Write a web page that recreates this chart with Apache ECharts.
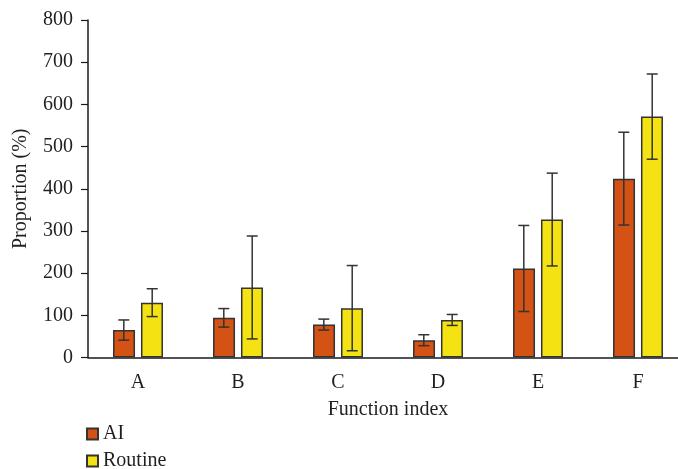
<!DOCTYPE html>
<html>
<head>
<meta charset="utf-8">
<script src="https://cdn.jsdelivr.net/npm/echarts@6/dist/echarts.min.js"></script>
<style>
  html, body { margin: 0; padding: 0; background: #fff; }
  #main { width: 678px; height: 469px; }
</style>
</head>
<body>
<div id="main"></div>
<script>
// data
const categories = ['A', 'B', 'C', 'D', 'E', 'F'];
const aiValues = [65, 94, 78, 41, 211, 424];
const aiErr = [24, 22, 13, 13, 102, 110];
const routineValues = [130, 166, 117, 89, 327, 571];
const routineErr = [33, 122, 101, 13, 110, 101];
const yTicks = [0, 100, 200, 300, 400, 500, 600, 700, 800];

const font = 'Liberation Serif';
const ink = '#231f20';

var chart = echarts.init(document.getElementById('main'), null, { renderer: 'canvas' });

// error bars: offset = share of the band width, side = -1 for AI, +1 for Routine
function errorBars(values, errs, side) {
  return {
    type: 'custom',
    z: 5,
    silent: true,
    data: values.map((v, i) => [i, v, errs[i]]),
    renderItem: function (params, api) {
      var i = api.value(0);
      var band = api.size([1, 0])[0];
      var hi = api.coord([i, api.value(1) + api.value(2)]);
      var lo = api.coord([i, api.value(1) - api.value(2)]);
      var x = hi[0] + side * band * 0.142;
      var cap = 5.5;
      var style = { stroke: '#333', lineWidth: 1.5 };
      return {
        type: 'group',
        children: [
          { type: 'line', shape: { x1: x, y1: hi[1], x2: x, y2: lo[1] }, style: style },
          { type: 'line', shape: { x1: x - cap, y1: hi[1], x2: x + cap, y2: hi[1] }, style: style },
          { type: 'line', shape: { x1: x - cap, y1: lo[1], x2: x + cap, y2: lo[1] }, style: style }
        ]
      };
    }
  };
}

// one legend box per series so the two entries stay stacked
function legendRow(name, top) {
  return {
    data: [name],
    orient: 'vertical',
    left: 86,
    top: top,
    padding: 0,
    icon: 'rect',
    itemWidth: 11,
    itemHeight: 11,
    textStyle: { fontFamily: font, fontSize: 20, color: ink }
  };
}

chart.setOption({
  animation: false,
  backgroundColor: '#fff',
  textStyle: { fontFamily: font, color: ink },
  grid: { left: 88, top: 20, width: 600, height: 337.5, containLabel: false, outerBoundsMode: 'none' },
  legend: [legendRow('AI', 424), legendRow('Routine', 451)],
  xAxis: {
    type: 'category',
    data: categories,
    name: 'Function index',
    nameLocation: 'middle',
    nameGap: 42,
    nameTextStyle: { fontFamily: font, fontSize: 20, color: ink },
    axisLine: { lineStyle: { color: '#1a1a1a', width: 1.5 } },
    axisTick: { length: 7, lineStyle: { color: '#1a1a1a', width: 1.2 } },
    axisLabel: { fontFamily: font, fontSize: 20, color: ink, margin: 15 }
  },
  yAxis: {
    type: 'value',
    min: yTicks[0],
    max: yTicks[yTicks.length - 1],
    interval: 100,
    name: 'Proportion (%)',
    nameLocation: 'middle',
    nameGap: 57,
    nameTextStyle: { fontFamily: font, fontSize: 20, color: ink },
    axisLine: { show: true, lineStyle: { color: '#1a1a1a', width: 1.5 } },
    axisTick: { show: true, length: 7, lineStyle: { color: '#1a1a1a', width: 1.2 } },
    axisLabel: { fontFamily: font, fontSize: 20, color: ink, margin: 15 },
    splitLine: { show: false }
  },
  series: [
    {
      name: 'AI',
      type: 'bar',
      data: aiValues,
      barWidth: '22%',
      barGap: '27%',
      itemStyle: { color: '#d35214', borderColor: '#333', borderWidth: 1.5 }
    },
    {
      name: 'Routine',
      type: 'bar',
      data: routineValues,
      barWidth: '22%',
      barGap: '27%',
      itemStyle: { color: '#f5e212', borderColor: '#333', borderWidth: 1.5 }
    },
    errorBars(aiValues, aiErr, -1),
    errorBars(routineValues, routineErr, 1)
  ]
});
</script>
</body>
</html>
